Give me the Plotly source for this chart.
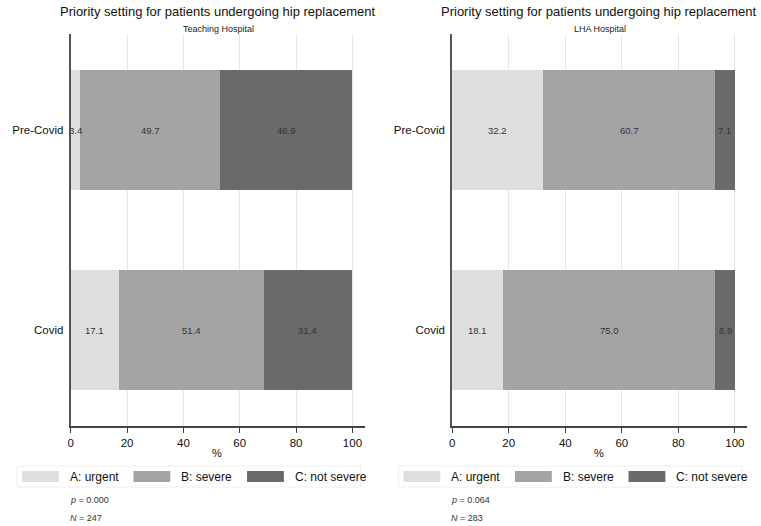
import plotly.graph_objects as go

W, H = 761, 526

categories = ["Covid", "Pre-Covid"]
series_names = ["A: urgent", "B: severe", "C: not severe"]
colors = ["#dedede", "#a4a4a4", "#6a6a6a"]

teaching_A = [17.1, 3.4]
teaching_B = [51.4, 49.7]
teaching_C = [31.4, 46.9]

lha_A = [18.1, 32.2]
lha_B = [75.0, 60.7]
lha_C = [6.9, 7.1]

panel_titles = ["Priority setting for patients undergoing hip replacement",
                "Priority setting for patients undergoing hip replacement"]
panel_subtitles = ["Teaching Hospital", "LHA Hospital"]
p_values = ["0.000", "0.064"]
n_values = ["247", "283"]
x_ticks = [0, 20, 40, 60, 80, 100]

FONT = "Liberation Sans, Arial, sans-serif"

panels = [
    dict(vals=[teaching_A, teaching_B, teaching_C], xa="x", ya="y", axl=68, axr=363),
    dict(vals=[lha_A, lha_B, lha_C], xa="x2", ya="y2", axl=451, axr=747),
]

fig = go.Figure()
annotations = []
shapes = []

def px_x(p):
    return p / W

def px_y(p):
    return 1 - p / H

for pi, panel in enumerate(panels):
    for si, vals in enumerate(panel["vals"]):
        fig.add_trace(go.Bar(
            y=categories, x=vals, orientation="h", name=series_names[si],
            marker=dict(color=colors[si], line=dict(width=0)),
            width=0.6, xaxis=panel["xa"], yaxis=panel["ya"], showlegend=False,
            hoverinfo="x+y+name",
        ))
    # segment labels
    for ci, cat in enumerate(categories):
        cum = 0.0
        for si, vals in enumerate(panel["vals"]):
            v = vals[ci]
            annotations.append(dict(
                x=cum + v / 2, y=cat, xref=panel["xa"], yref=panel["ya"],
                text=f"{v:.1f}", showarrow=False,
                font=dict(size=9.5, color="#333333", family=FONT),
            ))
            cum += v
    axl, axr = panel["axl"], panel["axr"]
    # titles
    annotations.append(dict(
        x=px_x(axl + 147), y=px_y(12), xref="paper", yref="paper",
        text=panel_titles[pi], showarrow=False, xanchor="center", yanchor="middle",
        font=dict(size=13, color="#111111", family=FONT),
    ))
    annotations.append(dict(
        x=px_x(axl + 148), y=px_y(28.5), xref="paper", yref="paper",
        text=panel_subtitles[pi], showarrow=False, xanchor="center", yanchor="middle",
        font=dict(size=9, color="#222222", family=FONT),
    ))
    # legend box
    shapes.append(dict(
        type="rect", xref="paper", yref="paper",
        x0=px_x(axl - 54), x1=px_x(axl + 291), y0=px_y(487), y1=px_y(466),
        line=dict(color="#eeeeee", width=1), fillcolor="white", layer="below",
    ))
    sw_offsets = [-49, 63, 177]
    for si in range(3):
        sx = axl + sw_offsets[si]
        shapes.append(dict(
            type="rect", xref="paper", yref="paper",
            x0=px_x(sx), x1=px_x(sx + 37), y0=px_y(482), y1=px_y(471),
            line=dict(width=0), fillcolor=colors[si],
        ))
        annotations.append(dict(
            x=px_x(sx + 46), y=px_y(476.5), xref="paper", yref="paper",
            text=series_names[si], showarrow=False, xanchor="left", yanchor="middle",
            font=dict(size=12, color="#111111", family=FONT),
        ))
    annotations.append(dict(
        x=px_x(axl - 3), y=px_y(500), xref="paper", yref="paper",
        text=f"<i>p</i> = {p_values[pi]}", showarrow=False, xanchor="left", yanchor="middle",
        font=dict(size=9, color="#333333", family=FONT),
    ))
    annotations.append(dict(
        x=px_x(axl - 3), y=px_y(517.5), xref="paper", yref="paper",
        text=f"<i>N</i> = {n_values[pi]}", showarrow=False, xanchor="left", yanchor="middle",
        font=dict(size=9, color="#333333", family=FONT),
    ))
    # x axis title
    annotations.append(dict(
        x=px_x(axl + 147), y=px_y(453), xref="paper", yref="paper",
        text="%", showarrow=False, xanchor="center", yanchor="middle",
        font=dict(size=11, color="#111111", family=FONT),
    ))

xaxis_common = dict(
    range=[0, 104.3], tickvals=x_ticks, ticktext=[str(t) for t in x_ticks],
    showgrid=True, gridcolor="#e6e6e6", gridwidth=1,
    showline=True, linecolor="#444444", linewidth=1.5,
    ticks="outside", ticklen=5, tickcolor="#444444",
    tickfont=dict(size=11.5, color="#111111", family=FONT),
    zeroline=False, fixedrange=True,
)
yaxis_common = dict(
    type="category", categoryorder="array", categoryarray=categories,
    range=[-0.48, 1.48], showgrid=False, zeroline=False,
    showline=True, linecolor="#555555", linewidth=2,
    ticks="", ticklabelstandoff=3,
    tickfont=dict(size=11.5, color="#111111", family=FONT),
    domain=[1 - 426 / H, 1 - 34 / H], fixedrange=True,
)

fig.update_layout(
    width=W, height=H, margin=dict(l=0, r=0, t=0, b=0),
    paper_bgcolor="white", plot_bgcolor="white",
    barmode="stack", bargap=0.4,
    font=dict(family=FONT),
    xaxis=dict(xaxis_common, domain=[68 / W, 363 / W], anchor="y"),
    xaxis2=dict(xaxis_common, domain=[451 / W, 747 / W], anchor="y2"),
    yaxis=dict(yaxis_common, anchor="x"),
    yaxis2=dict(yaxis_common, anchor="x2"),
    annotations=annotations, shapes=shapes, showlegend=False,
)

fig.write_html(
    "out.html",
    config={"displayModeBar": False},
    post_script="document.body.style.margin='0';document.body.style.overflow='hidden';",
)
